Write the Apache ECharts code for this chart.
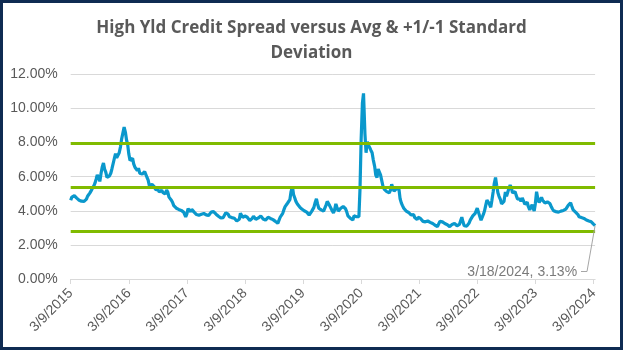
<!DOCTYPE html>
<html><head><meta charset="utf-8">
<script src="https://cdn.jsdelivr.net/npm/echarts@6/dist/echarts.min.js"></script>
<style>
html,body{margin:0;padding:0;background:#fff}
#chart{position:absolute;left:0;top:0;width:623px;height:350px}
#frame{position:absolute;left:0;top:0;width:623px;height:350px;box-sizing:border-box;border:3px solid #0f2b52;pointer-events:none}
</style></head><body>
<div id="chart"></div><div id="frame"></div>
<script>
const TITLE = 'High Yld Credit Spread versus Avg & +1/-1 Standard\nDeviation';

// High-yield credit spread (%), sampled on the 1st, 8th, 16th and 23rd of each month
const spread2015 = [4.62,4.80,4.72,
  4.88,4.80,4.74,4.66, 4.62,4.55,4.56,4.52, 4.55,4.60,4.68,4.85, 4.92,5.05,5.18,5.30,
  5.45,5.60,5.85,6.10, 5.95,5.72,6.20,6.55, 6.80,6.45,6.25,5.95, 5.85,6.05,6.20,6.45, 6.45,7.05,7.35,7.10];
const spread2016 = [7.05,7.40,7.75,8.20, 8.30,8.90,8.60,8.15, 7.90,7.35,6.95,6.90, 7.08,6.75,6.55,6.45,
  6.35,6.50,6.20,6.10, 6.15,6.05,6.30,6.20, 5.95,5.80,5.45,5.40, 5.55,5.62,5.40,5.25,
  5.15,5.22,5.10,5.20, 5.20,5.08,5.05,4.98, 5.22,5.10,4.80,4.75, 4.62,4.50,4.30,4.25];
const spread2017 = [4.15,4.20,4.08,4.10, 4.02,3.98,3.92,3.85, 3.65,3.80,4.12,4.05, 3.95,4.08,4.05,3.92,
  3.85,3.78,3.80,3.74, 3.72,3.80,3.78,3.84, 3.85,3.76,3.68,3.72, 3.75,3.92,4.02,3.95,
  3.88,3.80,3.75,3.68, 3.62,3.58,3.55,3.60, 3.70,3.88,3.95,3.80, 3.65,3.68,3.60,3.58];
const spread2018 = [3.56,3.45,3.40,3.38, 3.50,3.85,3.80,3.60, 3.56,3.70,3.80,3.62, 3.55,3.42,3.45,3.55,
  3.68,3.58,3.50,3.55, 3.58,3.62,3.70,3.60, 3.52,3.48,3.45,3.50, 3.62,3.58,3.55,3.50,
  3.48,3.42,3.38,3.32, 3.26,3.30,3.62,3.70, 3.85,4.05,4.24,4.15, 4.44,4.50,4.65,5.10];
const spread2019 = [5.42,4.95,4.75,4.55, 4.40,4.30,4.22,4.15, 4.10,4.05,4.00,3.95, 3.92,3.82,3.75,3.80,
  3.95,4.05,4.20,4.45, 4.70,4.40,4.15,4.10, 4.05,4.00,3.98,3.96, 4.35,4.55,4.50,4.30,
  4.20,4.00,3.88,4.05, 4.40,4.20,3.98,4.05, 4.15,4.25,4.25,4.18, 4.12,3.95,3.70,3.60];
const spread2020 = [3.55,3.50,3.46,3.70, 3.80,3.65,3.58,3.65, 5.30,8.15,10.30,10.88, 8.50,7.40,8.05,7.85,
  7.70,7.55,7.40,7.00, 6.60,6.10,5.95,6.45, 6.45,6.10,5.75,5.45, 5.25,5.15,5.12,5.08,
  5.05,5.20,5.55,5.35, 5.15,5.20,5.30,5.32, 5.25,4.70,4.45,4.30, 4.15,4.05,3.98,3.92];
const spread2021 = [3.90,3.80,3.75,3.78, 3.78,3.60,3.50,3.48, 3.62,3.58,3.55,3.45, 3.38,3.36,3.35,3.30,
  3.40,3.36,3.32,3.30, 3.25,3.20,3.15,3.10, 3.08,3.22,3.38,3.40, 3.35,3.30,3.25,3.22,
  3.18,3.12,3.07,3.15, 3.20,3.30,3.26,3.18, 3.12,3.08,3.20,3.40, 3.62,3.35,3.12,3.10];
const spread2022 = [3.10,3.15,3.28,3.45, 3.55,3.70,3.78,3.85, 3.90,4.15,4.10,3.70, 3.45,3.55,3.80,4.00,
  4.35,4.62,4.60,4.40, 4.20,4.60,5.10,5.60, 5.95,5.50,5.05,4.85, 4.65,4.40,4.35,4.55,
  5.10,4.85,4.95,5.30, 5.50,5.35,5.05,5.00, 5.12,4.90,4.70,4.60, 4.68,4.55,4.75,4.60];
const spread2023 = [4.38,4.45,4.50,4.25, 4.05,4.20,4.35,4.15, 3.98,4.40,5.12,4.75, 4.48,4.60,4.78,4.62,
  4.55,4.45,4.48,4.52, 4.60,4.42,4.25,4.12, 4.00,3.98,3.95,3.90, 3.92,3.95,3.98,3.96,
  4.02,4.05,4.10,4.18, 4.32,4.40,4.47,4.28, 4.05,3.98,3.92,3.85, 3.78,3.65,3.56,3.60];
const spread2024 = [3.65,3.55,3.50,3.46, 3.44,3.40,3.42,3.35, 3.28,3.22,3.13];

const AVG = 5.37;
const PLUS_1SD = 7.96;
const MINUS_1SD = 2.79;

const yMin = 0, yMax = 12, yStep = 2;
const xTickYears = [2015,2016,2017,2018,2019,2020,2021,2022,2023,2024];
const FIRST_DATE = [2015,3,9];
const LAST_DATE = [2024,3,18];
const SAMPLE_DAYS = [1,8,16,23];

function ts(y,m,d){ return new Date(y, m-1, d).getTime(); }
function fmtDate(v){ const d = new Date(v); return (d.getMonth()+1)+'/'+d.getDate()+'/'+d.getFullYear(); }

const sampleDates = [ts(2015,3,9), ts(2015,3,16), ts(2015,3,23)];
for (let y = 2015, m = 4; !(y === 2024 && m === 3); ) {
  SAMPLE_DAYS.forEach(d => sampleDates.push(ts(y,m,d)));
  m++; if (m > 12) { m = 1; y++; }
}
sampleDates.push(ts(2024,3,1), ts(2024,3,8), ts(2024,3,18));

const spreadAll = [].concat(spread2015,spread2016,spread2017,spread2018,spread2019,spread2020,spread2021,spread2022,spread2023,spread2024);
const seriesData = sampleDates.map((t,i)=>[t, spreadAll[i]]);
const lastPoint = seriesData[seriesData.length-1];
const tickValues = xTickYears.map(y=>ts(y,3,9));

const FONT = "'Liberation Sans', Arial, sans-serif";
const GREY = '#595959';
const GREEN = '#80bb00';

const chart = echarts.init(document.getElementById('chart'), null, {renderer:'canvas'});
chart.setOption({
  animation:false,
  backgroundColor:'#ffffff',
  title:{
    text: TITLE, left:'center', top:11,
    textStyle:{fontFamily:"'Open Sans', sans-serif", fontSize:17, fontWeight:'bold', color:GREY, lineHeight:25}
  },
  grid:{left:70.7, right:27.9, top:74.3, bottom:71, containLabel:false},
  xAxis:{
    type:'value', scale:true,
    min: ts(...FIRST_DATE), max: ts(...LAST_DATE),
    axisLine:{show:true, onZero:false, lineStyle:{color:'#d9d9d9', width:1}},
    axisTick:{show:true, length:5, customValues: tickValues, lineStyle:{color:'#d9d9d9'}},
    axisLabel:{customValues: tickValues, rotate:45, margin:12, fontFamily:FONT, fontSize:14, color:GREY,
      formatter:(v)=>fmtDate(v), hideOverlap:false, showMinLabel:true, showMaxLabel:true},
    splitLine:{show:false}
  },
  yAxis:{
    type:'value', min:yMin, max:yMax, interval:yStep,
    axisLine:{show:false}, axisTick:{show:false},
    axisLabel:{fontFamily:FONT, fontSize:14, color:GREY, margin:13, formatter:(v)=>v.toFixed(2)+'%'},
    splitLine:{show:true, lineStyle:{color:'#d9d9d9', width:1}}
  },
  series:[
    {
      type:'line', data:seriesData, showSymbol:false, symbol:'none',
      lineStyle:{color:'#0a98cc', width:3.2}, z:2
    },
    {
      type:'line', data:[], z:3, silent:true,
      markLine:{
        silent:true, symbol:'none', animation:false,
        label:{show:false},
        lineStyle:{color:GREEN, width:3, type:'solid'},
        data:[{yAxis:PLUS_1SD},{yAxis:AVG},{yAxis:MINUS_1SD}]
      }
    },
    {
      type:'scatter', data:[lastPoint], symbolSize:0, z:4, silent:true,
      label:{show:true, position:'left', distance:5, fontFamily:FONT, fontSize:14, color:GREY,
        formatter:(p)=>fmtDate(p.value[0])+', '+p.value[1].toFixed(2)+'%'},
      labelLayout:{dx:-13, dy:46.5},
      markLine:{
        silent:true, symbol:'none', animation:false, label:{show:false},
        lineStyle:{color:'#a6a6a6', width:1, type:'solid'},
        data:[
          [{coord:lastPoint}, {x:587, y:271.5}],
          [{x:587, y:271.5}, {x:581, y:271.5}]
        ]
      }
    }
  ]
});
</script>
</body></html>
